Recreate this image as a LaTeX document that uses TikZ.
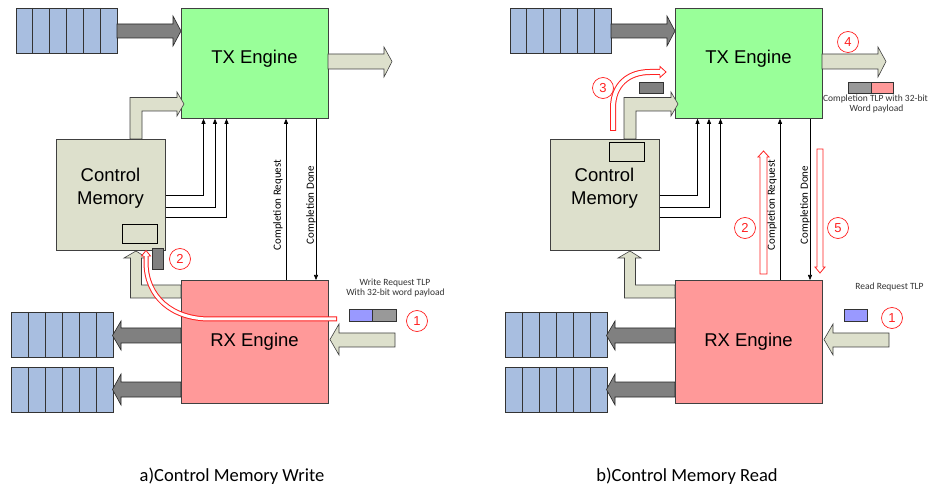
\documentclass[tikz,border=0pt]{standalone}
\usepackage{fontspec}
\setmainfont{Liberation Sans}
\newfontfamily\califont{Carlito}
\usetikzlibrary{calc,arrows.meta}
\definecolor{txgreen}{HTML}{99FF99}
\definecolor{rxpink}{HTML}{FF9999}
\definecolor{memtan}{HTML}{DDE0CC}
\definecolor{qblue}{HTML}{A8BEE0}
\definecolor{darkarrow}{HTML}{808080}
\definecolor{pktblue}{HTML}{9999FF}
\definecolor{pktgrey}{HTML}{999999}
\definecolor{stepred}{HTML}{FF2020}
\definecolor{labelgrey}{HTML}{333333}
\tikzset{
  engine/.style={draw=black!75, line width=0.8pt, inner sep=0pt, anchor=north west},
  queuebox/.style={draw=black!80, fill=qblue, line width=0.8pt, inner sep=0pt,
    anchor=north west, minimum width=101.5pt, minimum height=45pt},
  divider/.style={draw=black!80, line width=0.8pt},
  darkblock/.style={draw=black!85, fill=darkarrow, line width=0.6pt},
  lightblock/.style={draw=black!75, fill=memtan, line width=0.6pt},
  conn/.style={draw=black, line width=0.6pt, -{Triangle[length=5pt,width=4pt]}},
  bigtxt/.style={font=\fontsize{18.5}{22}\selectfont, inner sep=0pt, anchor=base},
  smalltxt/.style={font=\califont\fontsize{9.5}{11}\selectfont, text=labelgrey, inner sep=0pt, anchor=base},
  sidetxt/.style={font=\califont\fontsize{11}{13}\selectfont, inner sep=0pt, rotate=90},
  stepnum/.style={circle, draw=stepred, line width=0.7pt, minimum size=21pt, inner sep=0pt,
    text=stepred, font=\fontsize{13}{13}\selectfont},
  hollowred/.style={draw=stepred, fill=white, line width=0.8pt, line join=miter},
  pkt/.style={draw=black!80, line width=0.6pt, inner sep=0pt, anchor=north west},
  bufbox/.style={draw=black, fill=memtan, line width=0.9pt, inner sep=0pt, anchor=north west,
    minimum width=35pt, minimum height=19pt},
  caption/.style={font=\califont\fontsize{18.5}{22}\selectfont, inner sep=0pt, anchor=base},
}
\begin{document}
\begin{tikzpicture}[x=1pt,y=-1pt]
\useasboundingbox (0,0) rectangle (930,489);

% ---------- parts shared by both panels ----------
\foreach \p/\dx in {a/0,b/494}{
\begin{scope}[xshift=\dx pt]
  % transmit queue and its feed into the TX engine
  \node[queuebox] (qt\p) at (15.5,8) {};
  \foreach \i in {1,...,5}
    \draw[divider] ($(qt\p.north west)!\i/6!(qt\p.north east)$) -- ($(qt\p.south west)!\i/6!(qt\p.south east)$);
  \draw[darkblock] (117,24) -- (173,24) -- (173,16) -- (181,31) -- (173,46) -- (173,38) -- (117,38) -- cycle;

  % receive queues
  \node[queuebox] (qr\p) at (11,312) {};
  \node[queuebox] (qs\p) at (11,367) {};
  \foreach \i in {1,...,5}{
    \draw[divider] ($(qr\p.north west)!\i/6!(qr\p.north east)$) -- ($(qr\p.south west)!\i/6!(qr\p.south east)$);
    \draw[divider] ($(qs\p.north west)!\i/6!(qs\p.north east)$) -- ($(qs\p.south west)!\i/6!(qs\p.south east)$);
  }
  \draw[darkblock] (181,328) -- (121,328) -- (121,321) -- (112.5,335.5) -- (121,350) -- (121,343) -- (181,343) -- cycle;
  \draw[darkblock] (181,382) -- (121,382) -- (121,374) -- (112.5,389.5) -- (121,405) -- (121,397) -- (181,397) -- cycle;

  % engines and control memory
  \node[engine, fill=txgreen, minimum width=147pt, minimum height=110pt] (tx\p) at (181,8) {};
  \node[bigtxt] (txl\p) at (254.5,64) {TX Engine};
  \node[engine, fill=memtan, minimum width=109pt, minimum height=111pt] (cm\p) at (56,139) {};
  \node[bigtxt] (cml\p) at (110.5,182) {Control};
  \node[bigtxt] (cmm\p) at (110.5,205) {Memory};
  \node[engine, fill=rxpink, minimum width=147pt, minimum height=123pt] (rx\p) at (181,280) {};
  \node[bigtxt] (rxl\p) at (254.5,347) {RX Engine};

  % outgoing link from the TX engine, incoming link into the RX engine
  \draw[lightblock] (328,54) -- (384,54) -- (384,47) -- (392,61.5) -- (384,77) -- (384,69) -- (328,69) -- cycle;
  \draw[lightblock] (395,333) -- (339,333) -- (339,324) -- (330,339.5) -- (339,355) -- (339,347) -- (395,347) -- cycle;

  % control memory -> TX engine, RX engine -> control memory
  \draw[lightblock] (130,139) -- (130,97.5) -- (177,97.5) -- (177,92) -- (184,104) -- (177,116) -- (177,111) -- (142,111) -- (142,139) -- cycle;
  \draw[lightblock] (181,298) -- (130.5,298) -- (130.5,258) -- (124,258) -- (136,251) -- (147,258) -- (141.5,258) -- (141.5,285) -- (181,285) -- cycle;

  % control lines
  \draw[conn] (cm\p.east) -| ([xshift=22.5pt]tx\p.south west);
  \draw[conn] ([yshift=-12.5pt]cm\p.east) -| ([xshift=34pt]tx\p.south west);
  \draw[conn] ([yshift=-22.5pt]cm\p.east) -| ([xshift=45.5pt]tx\p.south west);
  \draw[conn] ([xshift=105pt]rx\p.north west) -- ([xshift=105pt]tx\p.south west);
  \draw[conn] ([xshift=135pt]tx\p.south west) -- ([xshift=135pt]rx\p.north west);
  \node[sidetxt] (crq\p) at (278,205) {Completion Request};
  \node[sidetxt] (cdn\p) at (311,205) {Completion Done};
\end{scope}
}

% ---------- a) control memory write ----------
\node[bufbox] (bufa) at (122,224) {};
\node[pkt, fill=darkarrow, minimum width=11pt, minimum height=21pt] (wordw) at (152,248) {};
\node[pkt, fill=pktblue, minimum width=23pt, minimum height=12pt] (wpkta) at (349,309) {};
\node[pkt, fill=pktgrey, minimum width=24pt, minimum height=12pt] (wpktb) at (372,309) {};
\node[smalltxt] (wrq1) at (395,285.5) {Write Request TLP};
\node[smalltxt] (wrq2) at (395.5,296) {With 32-bit word payload};
% write path: RX engine into the control memory
\draw[draw=stepred, line width=5pt] (337,319) -- (210,319) .. controls (172,319) and (146,297) .. (146,262) -- (146,256);
\draw[draw=white, line width=3pt] (336,319) -- (210,319) .. controls (172,319) and (146,297) .. (146,262) -- (146,256);
\fill[white] (141.5,256) -- (146,250.5) -- (150.5,256) -- cycle;
\draw[draw=stepred, line width=0.8pt] (143.5,256) -- (141.5,256) -- (146,250.5) -- (150.5,256) -- (148.5,256);
\node[stepnum] (s1a) at (417,321) {1};
\node[stepnum] (s2a) at (180,259) {2};
\node[caption] (capa) at (232,481.5) {a)Control Memory Write};

% ---------- b) control memory read ----------
\node[bufbox] (bufb) at (609,142) {};
\node[pkt, fill=darkarrow, minimum width=24pt, minimum height=11pt] (wordr) at (639,82) {};
\node[pkt, fill=pktgrey, minimum width=23pt, minimum height=11pt] (cpkta) at (848,82) {};
\node[pkt, fill=rxpink, minimum width=22pt, minimum height=11pt] (cpktb) at (871,82) {};
\node[smalltxt] (ctl1) at (875.5,101.5) {Completion TLP with 32-bit};
\node[smalltxt] (ctl2) at (876.5,112) {Word payload};
\node[pkt, fill=pktblue, minimum width=23pt, minimum height=12pt] (rpkt) at (844,309) {};
\node[smalltxt] (rrq) at (889.5,290) {Read Request TLP};
% read path: memory word up into the TX engine
\draw[draw=stepred, line width=6pt] (613,131) -- (613,108) .. controls (613,85) and (628,72) .. (650,72) -- (660,72);
\draw[draw=white, line width=4pt] (613,130) -- (613,108) .. controls (613,85) and (628,72) .. (650,72) -- (660,72);
\fill[white] (660,66.5) -- (666,72) -- (660,77.5) -- cycle;
\draw[draw=stepred, line width=0.8pt] (660,69) -- (660,66.5) -- (666,72) -- (660,77.5) -- (660,75);
% completion request / done hand-shake
\draw[hollowred] (760,274) -- (760,157) -- (758,157) -- (763.5,151) -- (769,157) -- (767,157) -- (767,274) -- cycle;
\draw[hollowred] (817,149) -- (823,149) -- (823,267) -- (825,267) -- (820,273) -- (815,267) -- (817,267) -- cycle;
\node[stepnum] (s1b) at (892,318) {1};
\node[stepnum] (s2b) at (745,228) {2};
\node[stepnum] (s3b) at (603,88) {3};
\node[stepnum] (s4b) at (848,42) {4};
\node[stepnum] (s5b) at (838,228) {5};
\node[caption] (capb) at (687,481.5) {b)Control Memory Read};
\end{tikzpicture}
\end{document}
